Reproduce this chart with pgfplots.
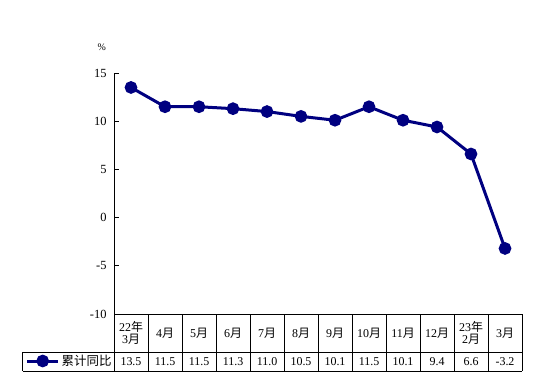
\documentclass[border=0pt]{standalone}
\usepackage{pgfplots}
\pgfplotsset{compat=1.18}
\usepackage{pgfplotstable}
\usepackage{fontspec}
\setmainfont{Liberation Serif}
\newfontfamily\cjk{Noto Sans CJK SC}
\newcommand\yue{{\cjk 月}}
\newcommand\nian{{\cjk 年}}
\definecolor{navy}{HTML}{000080}
\pgfplotstableread{
x y
0 13.5
1 11.5
2 11.5
3 11.3
4 11.0
5 10.5
6 10.1
7 11.5
8 10.1
9 9.4
10 6.6
11 -3.2
}\datatable
\begin{document}
\begin{tikzpicture}[x=1bp,y=1bp]
\useasboundingbox (0,0) rectangle (554,380);
\begin{axis}[
  at={(114bp,66bp)}, anchor=south west, scale only axis,
  width=408bp, height=241bp,
  xmin=-0.5, xmax=11.5, ymin=-10, ymax=15,
  axis y line*=left, axis x line*=bottom,
  axis line style={-, line width=0.8bp, black},
  ytick={-10,-5,...,15},
  tick align=inside, major tick length=5bp,
  y tick style={line width=0.8bp, black},
  xtick={0,...,11},
  xticklabels={{22\nian\\3\yue},4\yue,5\yue,6\yue,7\yue,8\yue,9\yue,10\yue,11\yue,12\yue,{23\nian\\2\yue},3\yue},
  x tick style={draw=none},
  xticklabel style={anchor=center, yshift=-19bp, align=center, font=\fontsize{12}{12.5}\selectfont},
  yticklabel style={font=\fontsize{12.5}{13}\selectfont, xshift=-4bp},
  /pgf/number format/assume math mode=true,
  clip=false,
  legend style={at={(rel axis cs:-0.2164,-0.195)}, anchor=west, draw=none, fill=none,
    inner sep=0pt, outer sep=0pt, font=\fontsize{12.5}{12.5}\selectfont},
  legend cell align=left,
  legend image code/.code={\draw[mark repeat=2, mark phase=2, #1] plot coordinates {(0bp,0bp) (15.5bp,0bp) (31bp,0bp)};},
]
\addplot[navy, line width=3bp, mark=*, mark size=4.8bp, mark options={solid, fill=navy}] table[x=x, y=y] {\datatable};
\addlegendentry{\cjk 累计同比}
\addplot[draw=none, mark=none, forget plot, point meta=explicit,
  nodes near coords={\pgfmathprintnumber[fixed, fixed zerofill, precision=1]{\pgfplotspointmeta}},
  nodes near coords style={anchor=center, font=\fontsize{12}{12}\selectfont, black}]
  table[x=x, y expr=-14.9, meta=y] {\datatable};
\end{axis}
\begin{scope}[line width=0.8bp, black]
\foreach \k in {0,...,12} \draw (114+34*\k, 66) -- (114+34*\k, 9);
\draw (22.7, 28) -- (522, 28);
\draw (22.7, 9) -- (522, 9);
\draw (22.7, 28) -- (22.7, 9);
\end{scope}
\node[font=\fontsize{10}{10}\selectfont] at (101.7, 332.5) {\%};
\end{tikzpicture}
\end{document}
